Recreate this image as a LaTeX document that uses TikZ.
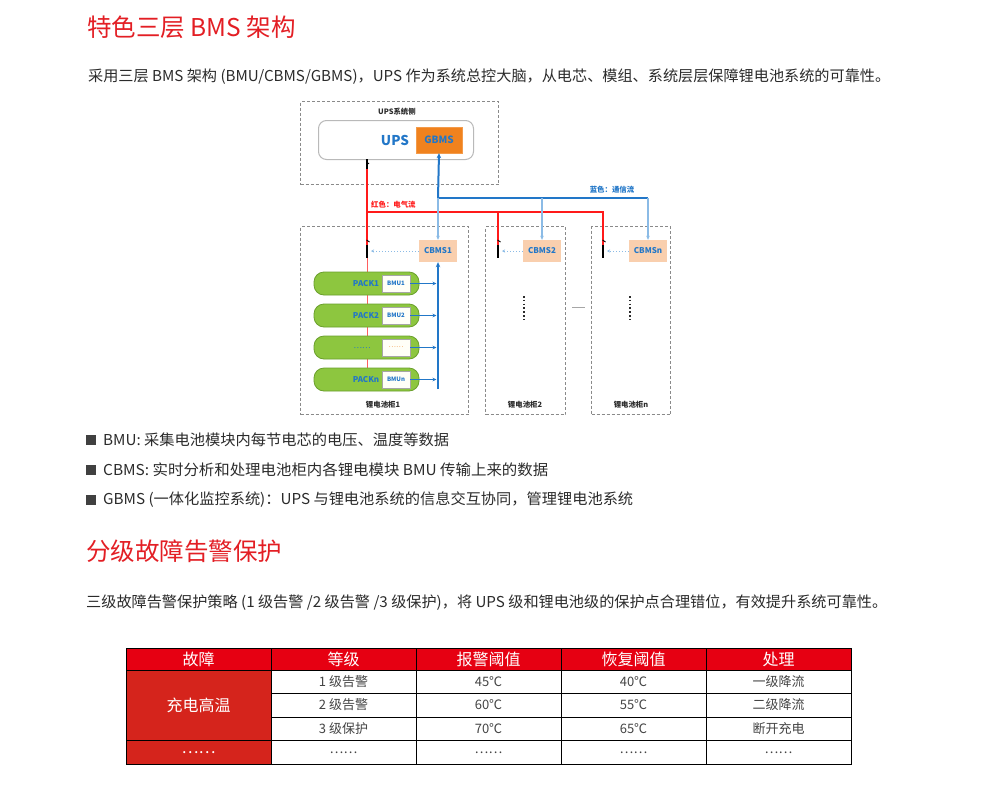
\documentclass[tikz,border=0pt]{standalone}
\usepackage{fontspec}
\usepackage{graphicx}
\setmainfont{Noto Sans CJK SC}
\usetikzlibrary{arrows.meta}
\definecolor{tred}{HTML}{E31E24}
\definecolor{hdrred}{HTML}{E60012}
\definecolor{colred}{HTML}{D5241C}
\definecolor{txt}{HTML}{2B2B2B}
\definecolor{cellt}{HTML}{444444}
\definecolor{blu}{HTML}{2277C8}
\definecolor{lblu}{HTML}{8BBBE6}
\definecolor{orng}{HTML}{F0821E}
\definecolor{peach}{HTML}{F9CFAE}
\definecolor{grn}{HTML}{8DC63F}
\definecolor{grnb}{HTML}{6A9F2C}
\definecolor{dgray}{HTML}{8A8A8A}
\definecolor{elec}{HTML}{FF1A1A}
\newcommand{\fitw}[2]{\resizebox{#1pt}{\height}{#2}}
\tikzset{
  title/.style={anchor=west,inner sep=0,text=tred,font=\fontsize{24.5}{28}\selectfont},
  body/.style={anchor=west,inner sep=0,text=txt,font=\fontsize{15}{17}\selectfont},
  dbox/.style={draw=dgray,dashed,dash pattern=on 3pt off 2pt,line width=1pt,anchor=north west},
  small/.style={inner sep=0,font=\bfseries\fontsize{7.4}{8}\selectfont},
  cbms/.style={fill=peach,minimum width=38,minimum height=22,inner sep=0,text=blu,font=\bfseries\fontsize{8}{9}\selectfont},
  pack/.style={fill=grn,draw=grnb,line width=0.8pt,rounded corners=10,minimum width=105,minimum height=23,inner sep=0},
  bmu/.style={fill=white!97!yellow,draw=gray!70,line width=0.6pt,minimum width=28,minimum height=17,inner sep=0,text=blu,font=\bfseries\fontsize{6}{7}\selectfont},
  packt/.style={inner sep=0,text=blu,font=\bfseries\fontsize{8}{9}\selectfont},
  eline/.style={elec,line width=2.6pt},
  swl/.style={black,line width=1.1pt},
  comm/.style={blu,line width=2pt},
  commt/.style={lblu,line width=1.1pt,-{Stealth[length=4pt,width=3.5pt]}},
  dotarr/.style={lblu,line width=1pt,dotted,-{Stealth[length=3pt,width=3pt]}},
  barr/.style={blu,line width=0.9pt,-{Stealth[length=4pt,width=3.5pt]}},
  cell/.style={draw=black,line width=0.9pt,minimum width=145,inner sep=0,text=cellt,font=\fontsize{13}{15}\selectfont},
  hcell/.style={cell,fill=hdrred,text=white,font=\fontsize{16}{18}\selectfont},
  rcell/.style={cell,fill=colred,text=white,font=\fontsize{16}{18}\selectfont},
  bullet/.style={fill=txt!90,minimum size=10,inner sep=0}
}
\begin{document}
\begin{tikzpicture}[x=1pt,y=-1pt]
\useasboundingbox[fill=white] (0,0) rectangle (984,803);

% ---------- section 1 ----------
\node[title] (t1) at (87,27) {特色三层 BMS 架构};
\node[body] (p1) at (88,77) {\fitw{802}{采用三层 BMS 架构 (BMU/CBMS/GBMS)，UPS 作为系统总控大脑，从电芯、模组、系统层层保障锂电池系统的可靠性。}};

% ---------- diagram ----------
\node[dbox,minimum width=198,minimum height=83] (upsside) at (300,101) {};
\node[small,text=txt] (upsl) at (397,112) {UPS系统侧};
\node[draw=gray!55,line width=1pt,rounded corners=8,minimum width=155,minimum height=39,anchor=north west] (ups) at (318,120) {};
\node[inner sep=0,text=blu,font=\bfseries\fontsize{13.5}{15}\selectfont] (upst) at (395,140) {UPS};
\node[fill=orng,draw=orng!80!white,minimum width=46,minimum height=26,inner sep=0,text=blu,font=\bfseries\fontsize{10}{11}\selectfont] (gbms) at (439,140) {GBMS};

\node[dbox,minimum width=168,minimum height=188] (cab1) at (300,226) {};
\node[dbox,minimum width=80,minimum height=188] (cab2) at (485,226) {};
\node[dbox,minimum width=79,minimum height=188] (cabn) at (591,226) {};
\node[small,text=txt] (cab1l) at (383,405) {锂电池柜1};
\node[small,text=txt] (cab2l) at (525,405) {锂电池柜2};
\node[small,text=txt] (cabnl) at (631,405) {锂电池柜n};

\node[cbms] (cbms1) at (438,251) {CBMS1};
\node[cbms] (cbms2) at (542,251) {CBMS2};
\node[cbms] (cbmsn) at (648,251) {CBMSn};

% coordinates for electric path
\coordinate (e0) at (367,159);
\coordinate (e1) at (367,169);
\coordinate (j1) at (367,212);
\coordinate (j2) at (498,212);
\coordinate (s1) at (367,245);
\coordinate (s1b) at (367,258);
\coordinate (s2) at (498,245);
\coordinate (s2b) at (498,258);
\coordinate (sn) at (603,245);
\coordinate (snb) at (603,258);
\coordinate (pk) at (367,382);

% thin red line through packs (behind)
\draw[elec!70,line width=1pt] (s1b) -- (pk);

% packs
\node[pack] (pack1) at (366.5,283.5) {};
\node[pack] (pack2) at (366.5,315.5) {};
\node[pack] (pack3) at (366.5,347.5) {};
\node[pack] (packn) at (366.5,379.5) {};
\node[packt] (pack1t) at (366,283.5) {PACK1};
\node[packt] (pack2t) at (366,315.5) {PACK2};
\node[packt,font=\fontsize{8}{9}\selectfont] (pack3t) at (362,348.5) {……};
\node[packt] (packnt) at (366,380) {PACKn};
\node[bmu] (bmu1) at (396,283.5) {BMU1};
\node[bmu] (bmu2) at (396,315.5) {BMU2};
\node[bmu,text=orng,font=\fontsize{7}{8}\selectfont] (bmu3) at (396,347.5) {……};
\node[bmu] (bmun) at (396,379.5) {BMUn};

% electric lines
\draw[swl] (e0) -- (e1);
\draw[swl,line width=0.9pt] (366.5,165) -- (369,163);
\draw[eline] (e1) -- (s1);
\draw[eline] (j1) -| (sn);
\draw[eline] (j2) -- (s2);
\foreach \a/\b in {s1/s1b,s2/s2b,sn/snb}{
  \draw[swl] (\a) -- (\b);
  \draw[swl,line width=0.9pt] ([xshift=-0.5pt,yshift=5pt]\a) -- ([xshift=2.5pt,yshift=3pt]\a);
}
\node[small,text=elec,anchor=west] (redl) at (371,205) {红色：电气流};

% communication lines
\coordinate (c0) at (438,198);
\coordinate (c2) at (542,198);
\coordinate (cn) at (648,198);
\draw[comm,-{Stealth[length=5pt,width=4.5pt]}] (c0) -- (gbms.south);
\draw[comm] (c0) -- (cn);
\draw[commt] (c0) -- (cbms1.north);
\draw[commt] (c2) -- (cbms2.north);
\draw[commt] (cn) -- (cbmsn.north);
\node[small,text=blu] (bluel) at (612,190) {蓝色：通信流};

% CBMS -> switch dotted arrows
\draw[dotarr] (cbms1.west) -- ([xshift=4pt]s1 |- cbms1.west);
\draw[dotarr] (cbms2.west) -- ([xshift=4pt]s2 |- cbms2.west);
\draw[dotarr] (cbmsn.west) -- ([xshift=4pt]sn |- cbmsn.west);

% BMU -> bus
\coordinate (bus) at (438,389);
\draw[blu,line width=2pt,-{Stealth[length=5pt,width=4.5pt]}] (bus) -- (cbms1.south);
\foreach \b in {bmu1,bmu2,bmu3,bmun}{
  \draw[barr] (\b.east) -- (436.5,0 |- \b.east);
}

% cabinet dots and gap dash
\draw[txt,line width=1.8pt,dash pattern=on 1.6pt off 2.2pt] (524,296) -- (524,320);
\draw[txt,line width=1.8pt,dash pattern=on 1.6pt off 2.2pt] (630,296) -- (630,320);
\draw[gray!70,line width=1pt] (572,307) -- (585,307);

% ---------- bullets ----------
\node[bullet] (b1) at (91,440) {};
\node[bullet] (b2) at (91,470) {};
\node[bullet] (b3) at (91,500) {};
\node[body] (bt1) at (103,440) {\fitw{346}{BMU: 采集电池模块内每节电芯的电压、温度等数据}};
\node[body] (bt2) at (103,470) {\fitw{445}{CBMS: 实时分析和处理电池柜内各锂电模块 BMU 传输上来的数据}};
\node[body] (bt3) at (103,500) {\fitw{530}{GBMS (一体化监控系统)：UPS 与锂电池系统的信息交互协同，管理锂电池系统}};

% ---------- section 2 ----------
\node[title] (t2) at (86,551) {分级故障告警保护};
\node[body] (p2) at (86,603) {\fitw{801}{三级故障告警保护策略 (1 级告警 /2 级告警 /3 级保护)，将 UPS 级和锂电池级的保护点合理错位，有效提升系统可靠性。}};

% ---------- table ----------
\node[hcell,minimum height=22] (h1) at (198.5,659.5) {故障};
\node[hcell,minimum height=22] (h2) at (343.5,659.5) {等级};
\node[hcell,minimum height=22] (h3) at (488.5,659.5) {报警阈值};
\node[hcell,minimum height=22] (h4) at (633.5,659.5) {恢复阈值};
\node[hcell,minimum height=22] (h5) at (778.5,659.5) {处理};
\node[rcell,minimum height=70] (f1) at (198.5,705.5) {充电高温};
\node[rcell,minimum height=24] (f2) at (198.5,752.5) {……};
\foreach \r/\y/\h/\a/\b/\c/\d in {
  1/682/23/1 级告警/45℃/40℃/一级降流,
  2/705/24/2 级告警/60℃/55℃/二级降流,
  3/729/23/3 级保护/70℃/65℃/断开充电,
  4/752.5/24/……/……/……/……}{
  \node[cell,minimum height=\h] (g\r) at (343.5,\y) {\a};
  \node[cell,minimum height=\h] (a\r) at (488.5,\y) {\b};
  \node[cell,minimum height=\h] (r\r) at (633.5,\y) {\c};
  \node[cell,minimum height=\h] (d\r) at (778.5,\y) {\d};
}
\end{tikzpicture}
\end{document}
